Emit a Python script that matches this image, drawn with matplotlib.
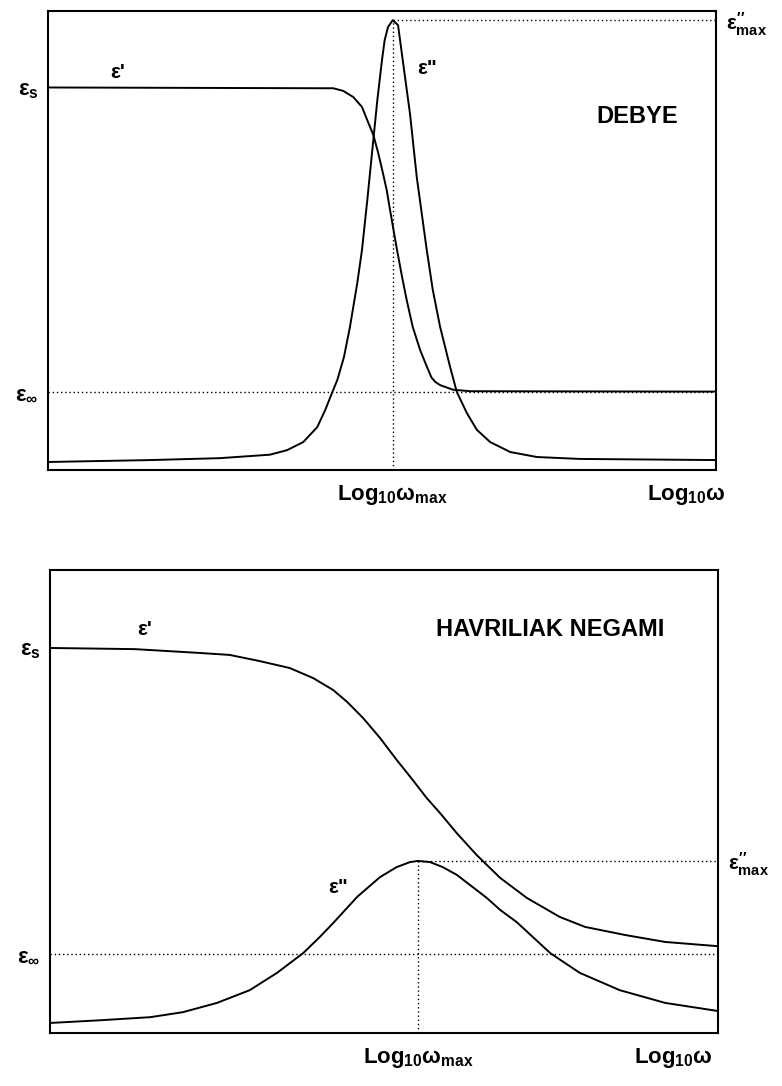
import matplotlib
matplotlib.use('Agg')
import matplotlib.pyplot as plt

plt.rcParams['font.family'] = ['Liberation Sans', 'DejaVu Sans']
plt.rcParams['font.weight'] = 'bold'
plt.rcParams['mathtext.fontset'] = 'custom'
plt.rcParams['mathtext.rm'] = 'Liberation Sans:bold'
plt.rcParams['mathtext.it'] = 'Liberation Sans:bold'
plt.rcParams['mathtext.bf'] = 'Liberation Sans:bold'

# levels shared by both panels (arbitrary units)
EPS_S = 10.0
EPS_INF = 2.05

# Debye: log10(omega) vs eps' and eps''
debye_logw_e1 = [0.00, 4.07, 4.27, 4.42, 4.57, 4.70, 4.79, 4.87, 4.94, 5.01,
                 5.07, 5.12, 5.22, 5.30, 5.37, 5.46, 5.57, 5.66, 5.74, 5.80,
                 5.87, 6.06, 6.32, 10.0]
debye_e1 = [10.0, 9.98, 9.98, 9.91, 9.75, 9.49, 9.10, 8.76, 8.31, 7.79,
            7.32, 6.80, 5.80, 5.05, 4.44, 3.74, 3.14, 2.75, 2.42, 2.30,
            2.22, 2.10, 2.06, 2.05]
debye_logw_e2 = [0.00, 1.53, 2.57, 3.32, 3.58, 3.82, 4.03, 4.15, 4.25, 4.33,
                 4.43, 4.52, 4.63, 4.70, 4.78, 4.87, 4.93, 5.00, 5.04, 5.09,
                 5.16, 5.24, 5.31, 5.42, 5.52, 5.67, 5.76, 5.87, 6.02, 6.12,
                 6.27, 6.42, 6.62, 6.92, 7.32, 7.96, 10.0]
debye_e2 = [0.21, 0.26, 0.31, 0.40, 0.52, 0.73, 1.12, 1.57, 2.01, 2.35,
            2.95, 3.74, 4.89, 5.75, 7.06, 8.63, 9.67, 10.72, 11.24, 11.58,
            11.76, 11.63, 10.72, 9.30, 7.66, 5.75, 4.71, 3.74, 2.69, 2.04,
            1.49, 1.05, 0.73, 0.47, 0.34, 0.29, 0.26]
DEBYE_WMAX = 5.16
DEBYE_E2MAX = 11.76

# Havriliak-Negami
hn_logw_e1 = [0.00, 1.27, 2.25, 2.69, 3.14, 3.59, 3.94, 4.24, 4.45, 4.69,
              4.94, 5.19, 5.43, 5.64, 5.84, 6.09, 6.39, 6.74, 7.14, 7.63,
              8.01, 8.61, 9.21, 10.0]
hn_e1 = [9.98, 9.95, 9.85, 9.80, 9.64, 9.46, 9.20, 8.89, 8.58, 8.16,
         7.65, 7.08, 6.56, 6.09, 5.70, 5.18, 4.61, 4.02, 3.50, 3.01,
         2.75, 2.54, 2.36, 2.25]
hn_logw_e2 = [0.00, 0.75, 1.50, 1.99, 2.50, 2.99, 3.40, 3.79, 4.04, 4.24,
              4.60, 4.94, 5.19, 5.39, 5.51, 5.69, 5.88, 6.09, 6.33, 6.54,
              6.74, 6.99, 7.19, 7.49, 7.93, 8.53, 9.21, 10.0]
hn_e2 = [0.26, 0.33, 0.41, 0.54, 0.78, 1.11, 1.56, 2.07, 2.49, 2.85,
         3.53, 4.04, 4.30, 4.43, 4.46, 4.43, 4.30, 4.10, 3.78, 3.50,
         3.19, 2.87, 2.55, 2.07, 1.56, 1.11, 0.78, 0.57]
HN_WMAX = 5.51
HN_E2MAX = 4.46

LW = 1.4
DOT = (0, (1, 2))
FS = 15


def panel(rect, logw1, e1, logw2, e2, wmax, e2max, title, title_xy,
          e1_xy, e2_xy, wlab_x):
    ax = fig.add_axes(rect)
    ax.set_xlim(0, 10)
    ax.set_ylim(0, 12)
    for s in ax.spines.values():
        s.set_linewidth(1.5)

    for xs, ys in ((logw1, e1), (logw2, e2)):
        ax.plot(xs, ys, color='k', lw=LW, zorder=3,
                solid_joinstyle='round', solid_capstyle='round')

    # guide lines
    ax.plot([0, 10], [EPS_INF, EPS_INF], color='k', lw=1.0, ls=DOT)
    ax.plot([wmax, 10], [e2max, e2max], color='k', lw=1.0, ls=DOT)
    ax.plot([wmax, wmax], [0, e2max], color='k', lw=1.0, ls=DOT)

    ax.set_yticks([EPS_S, EPS_INF],
                  labels=[r'$\varepsilon_s$', r'$\varepsilon_\infty$'])
    ax.set_xticks([wmax, wlab_x],
                  labels=[r'$\mathrm{Log_{10}\omega_{max}}$',
                          r'$\mathrm{Log_{10}\omega}$'])
    ax.tick_params(axis='y', length=0, pad=7, labelsize=FS + 1)
    ax.tick_params(axis='x', length=0, pad=9, labelsize=FS + 1)

    sec = ax.secondary_yaxis('right')
    sec.set_yticks([e2max],
                   labels=[r'$\varepsilon^{\prime\prime}_{\mathrm{max}}$'])
    sec.tick_params(length=0, pad=7, labelsize=FS)
    for s in sec.spines.values():
        s.set_visible(False)

    ax.text(*e1_xy, "ε'", fontsize=FS, fontweight='bold',
            ha='center', va='center')
    ax.text(*e2_xy, 'ε"', fontsize=FS, fontweight='bold',
            ha='center', va='center')
    ax.text(*title_xy, title, fontsize=17, fontweight='bold',
            ha='center', va='center')
    return ax


fig = plt.figure(figsize=(7.82, 10.86), dpi=100)

panel([0.0614, 0.5672, 0.8542, 0.4227],
      debye_logw_e1, debye_e1, debye_logw_e2, debye_e2,
      DEBYE_WMAX, DEBYE_E2MAX, 'DEBYE', (8.82, 9.23),
      (1.05, 10.4), (5.67, 10.5), 9.55)

panel([0.0639, 0.0488, 0.8542, 0.4263],
      hn_logw_e1, hn_e1, hn_logw_e2, hn_e2,
      HN_WMAX, HN_E2MAX, 'HAVRILIAK NEGAMI', (7.49, 10.45),
      (1.42, 10.45), (4.31, 3.78), 9.34)

fig.savefig('out.png', dpi=100)
